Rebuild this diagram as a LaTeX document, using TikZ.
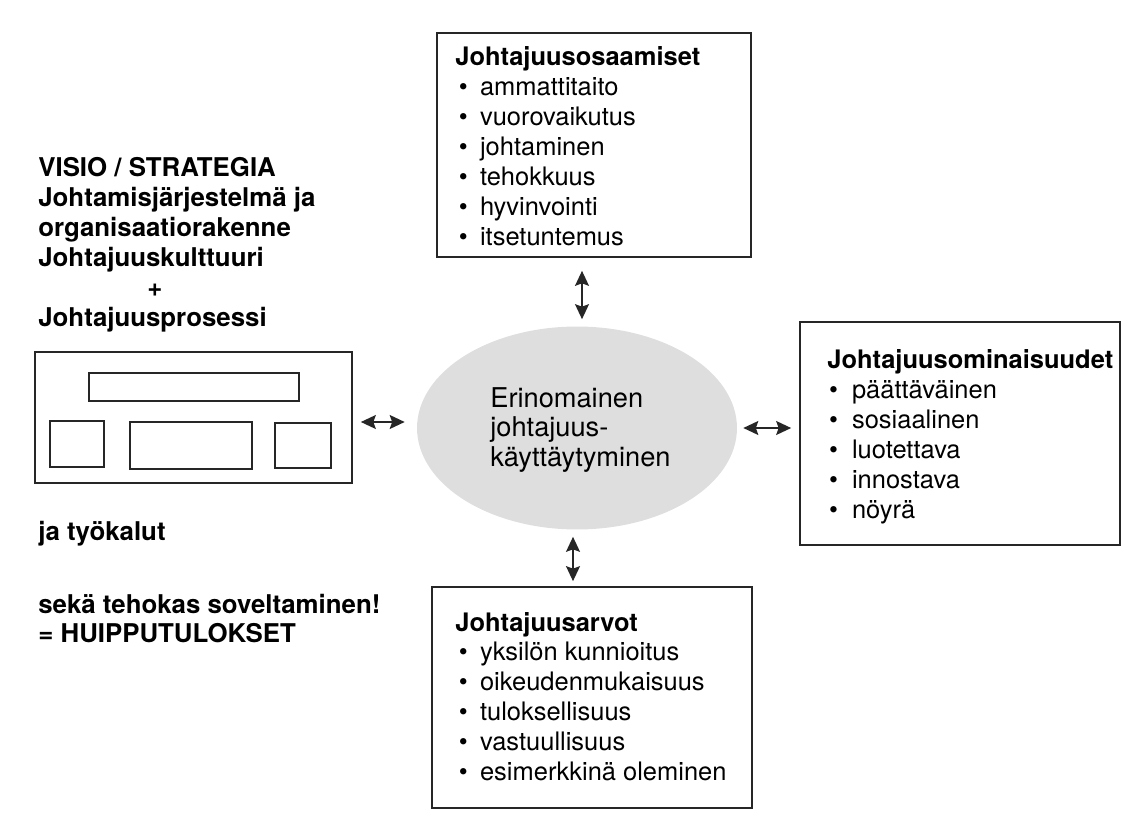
\documentclass[tikz,border=0pt]{standalone}
\usepackage{fontspec}
\setmainfont{TeX Gyre Heros}
\usetikzlibrary{arrows.meta, shapes.geometric}
\tikzset{>={Stealth[length=3mm,width=2.8mm,inset=0.5mm]}}
\tikzset{
  frame/.style={draw=black!85, line width=1pt, rectangle, inner sep=0pt},
  listtext/.style={anchor=base west, inner sep=0pt, font=\fontsize{14.5}{17}\selectfont},
  boldtext/.style={listtext, font=\bfseries\fontsize{14.7}{17}\selectfont},
  link/.style={<->, line width=0.9pt, draw=black!85}
}

\begin{document}
\begin{tikzpicture}[x=0.02cm, y=-0.02cm]
            \useasboundingbox (0,0) rectangle (1139,827);

            \node[ellipse, fill=black!13, minimum width=6.4cm, minimum height=4.06cm, inner sep=0pt] (ell) at (577,428) {};
            \node[listtext, font=\fontsize{15.5}{17}\selectfont] (elltxt) at (490,407)
              {\begin{tabular}[t]{@{}l@{}}Erinomainen\\johtajuus-\\käyttäytyminen\end{tabular}};

            \node[frame, minimum width=6.28cm, minimum height=4.48cm] (osaam) at (594,145) {};
            \node[listtext] (osaamtxt) at (455,66)
              {\begin{tabular}[t]{@{\hspace{2pt}}l@{\hspace{7pt}}l@{}}
                \multicolumn{2}{@{}l}{\bfseries Johtajuusosaamiset}\\
                \textbullet & ammattitaito\\
                \textbullet & vuorovaikutus\\
                \textbullet & johtaminen\\
                \textbullet & tehokkuus\\
                \textbullet & hyvinvointi\\
                \textbullet & itsetuntemus
              \end{tabular}};

            \node[frame, minimum width=6.4cm, minimum height=4.46cm] (omin) at (960,433.5) {};
            \node[listtext] (omintxt) at (827,369)
              {\begin{tabular}[t]{@{\hspace{1pt}}l@{\hspace{8pt}}l@{}}
                \multicolumn{2}{@{}l}{\bfseries Johtajuusominaisuudet}\\
                \textbullet & päättäväinen\\
                \textbullet & sosiaalinen\\
                \textbullet & luotettava\\
                \textbullet & innostava\\
                \textbullet & nöyrä
              \end{tabular}};

            \node[frame, minimum width=6.4cm, minimum height=4.42cm] (arvot) at (592,697.5) {};
            \node[listtext] (arvottxt) at (455,631)
              {\begin{tabular}[t]{@{\hspace{2pt}}l@{\hspace{7pt}}l@{}}
                \multicolumn{2}{@{}l}{\bfseries Johtajuusarvot}\\
                \textbullet & yksilön kunnioitus\\
                \textbullet & oikeudenmukaisuus\\
                \textbullet & tuloksellisuus\\
                \textbullet & vastuullisuus\\
                \textbullet & esimerkkinä oleminen
              \end{tabular}};

            \node[boldtext] (visio) at (38,177)
              {\begin{tabular}[t]{@{}l@{}}VISIO / STRATEGIA\\Johtamisjärjestelmä ja\\organisaatiorakenne\\Johtajuuskulttuuri\\\hspace{2.18cm}+\\Johtajuusprosessi\end{tabular}};

            \node[frame, minimum width=6.34cm, minimum height=2.62cm] (proc) at (193.5,417.5) {};
            \node[frame, minimum width=4.2cm, minimum height=0.56cm] (procA) at (194,387) {};
            \node[frame, minimum width=1.08cm, minimum height=0.92cm] (procB) at (77,444) {};
            \node[frame, minimum width=2.44cm, minimum height=0.94cm] (procC) at (191,445.5) {};
            \node[frame, minimum width=1.12cm, minimum height=0.9cm] (procD) at (303,445.5) {};

            \node[boldtext] (tyokalut) at (38,540) {ja työkalut};
            \node[boldtext] (tulos) at (38,613)
              {\begin{tabular}[t]{@{}l@{}}sekä tehokas soveltaminen!\\= HUIPPUTULOKSET\end{tabular}};

            \draw[link] ([shift={(-12,13)}]osaam.south) -- ([shift={(5,-7)}]ell.north);
            \draw[link] ([shift={(8,4.5)}]proc.east) -- ([shift={(-12,-6)}]ell.west);
            \draw[link] ([shift={(6,0)}]ell.east) -- ([shift={(-8,-5.5)}]omin.west);
            \draw[link] ([shift={(-4,7)}]ell.south) -- ([shift={(-19,-5)}]arvot.north);
        \end{tikzpicture}
\end{document}
